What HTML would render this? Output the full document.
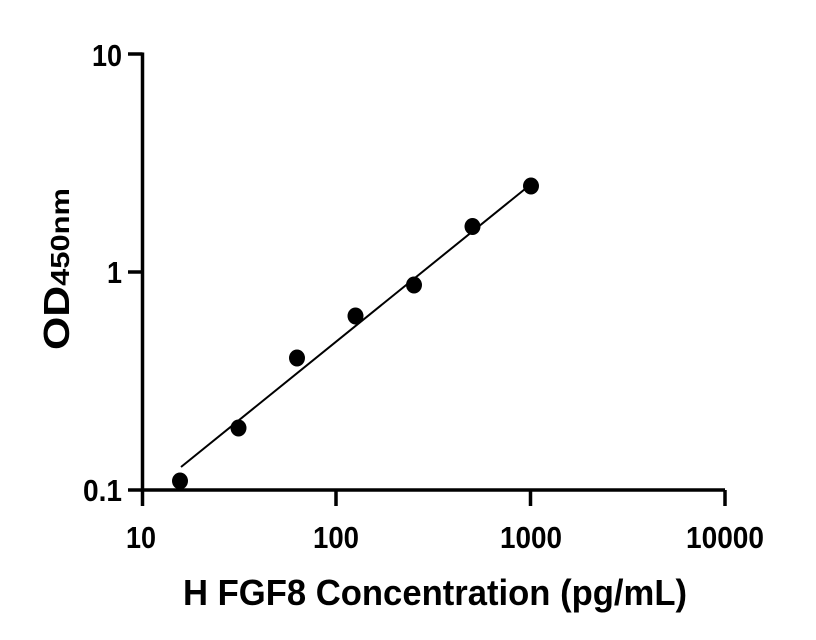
<!DOCTYPE html>
<html><head><style>body{margin:0;background:#fff}svg{display:block}</style></head><body>
<svg width="816" height="640" xmlns="http://www.w3.org/2000/svg" font-family="Liberation Sans, sans-serif" font-weight="bold">
<g stroke="#000" stroke-width="3.5" fill="none">
<path d="M142.5 52.5 V490 H725"/>
<path d="M128 54 H142.5 M128 272 H142.5 M128 490 H142.5"/>
<path d="M142.5 490 V506 M336 490 V506 M530.5 490 V506 M725 490 V506"/>
</g>
<line x1="181" y1="467" x2="525" y2="189" stroke="#000" stroke-width="2"/>
<g fill="#000">
<ellipse cx="180" cy="481" rx="8" ry="8.5"/>
<ellipse cx="238.5" cy="428" rx="8" ry="8.5"/>
<ellipse cx="297" cy="358" rx="8" ry="8.5"/>
<ellipse cx="355.5" cy="316" rx="8" ry="8.5"/>
<ellipse cx="414" cy="285" rx="8" ry="8.5"/>
<ellipse cx="472.5" cy="226.5" rx="8" ry="8.5"/>
<ellipse cx="531" cy="186" rx="8" ry="8.5"/>
</g>
<g font-size="31">
<text x="92" y="66" textLength="30" lengthAdjust="spacingAndGlyphs">10</text>
<text x="107" y="283" textLength="15" lengthAdjust="spacingAndGlyphs">1</text>
<text x="83" y="501" textLength="39" lengthAdjust="spacingAndGlyphs">0.1</text>
<text x="126" y="548" textLength="30" lengthAdjust="spacingAndGlyphs">10</text>
<text x="313" y="548" textLength="46" lengthAdjust="spacingAndGlyphs">100</text>
<text x="500" y="548" textLength="62" lengthAdjust="spacingAndGlyphs">1000</text>
<text x="686" y="548" textLength="78" lengthAdjust="spacingAndGlyphs">10000</text>
</g>
<text x="183" y="605" font-size="36" textLength="504" lengthAdjust="spacingAndGlyphs">H FGF8 Concentration (pg/mL)</text>
<text transform="translate(69,350) rotate(-90)" font-size="36" textLength="162" lengthAdjust="spacingAndGlyphs">OD<tspan font-size="26">450nm</tspan></text>
</svg>
</body></html>
